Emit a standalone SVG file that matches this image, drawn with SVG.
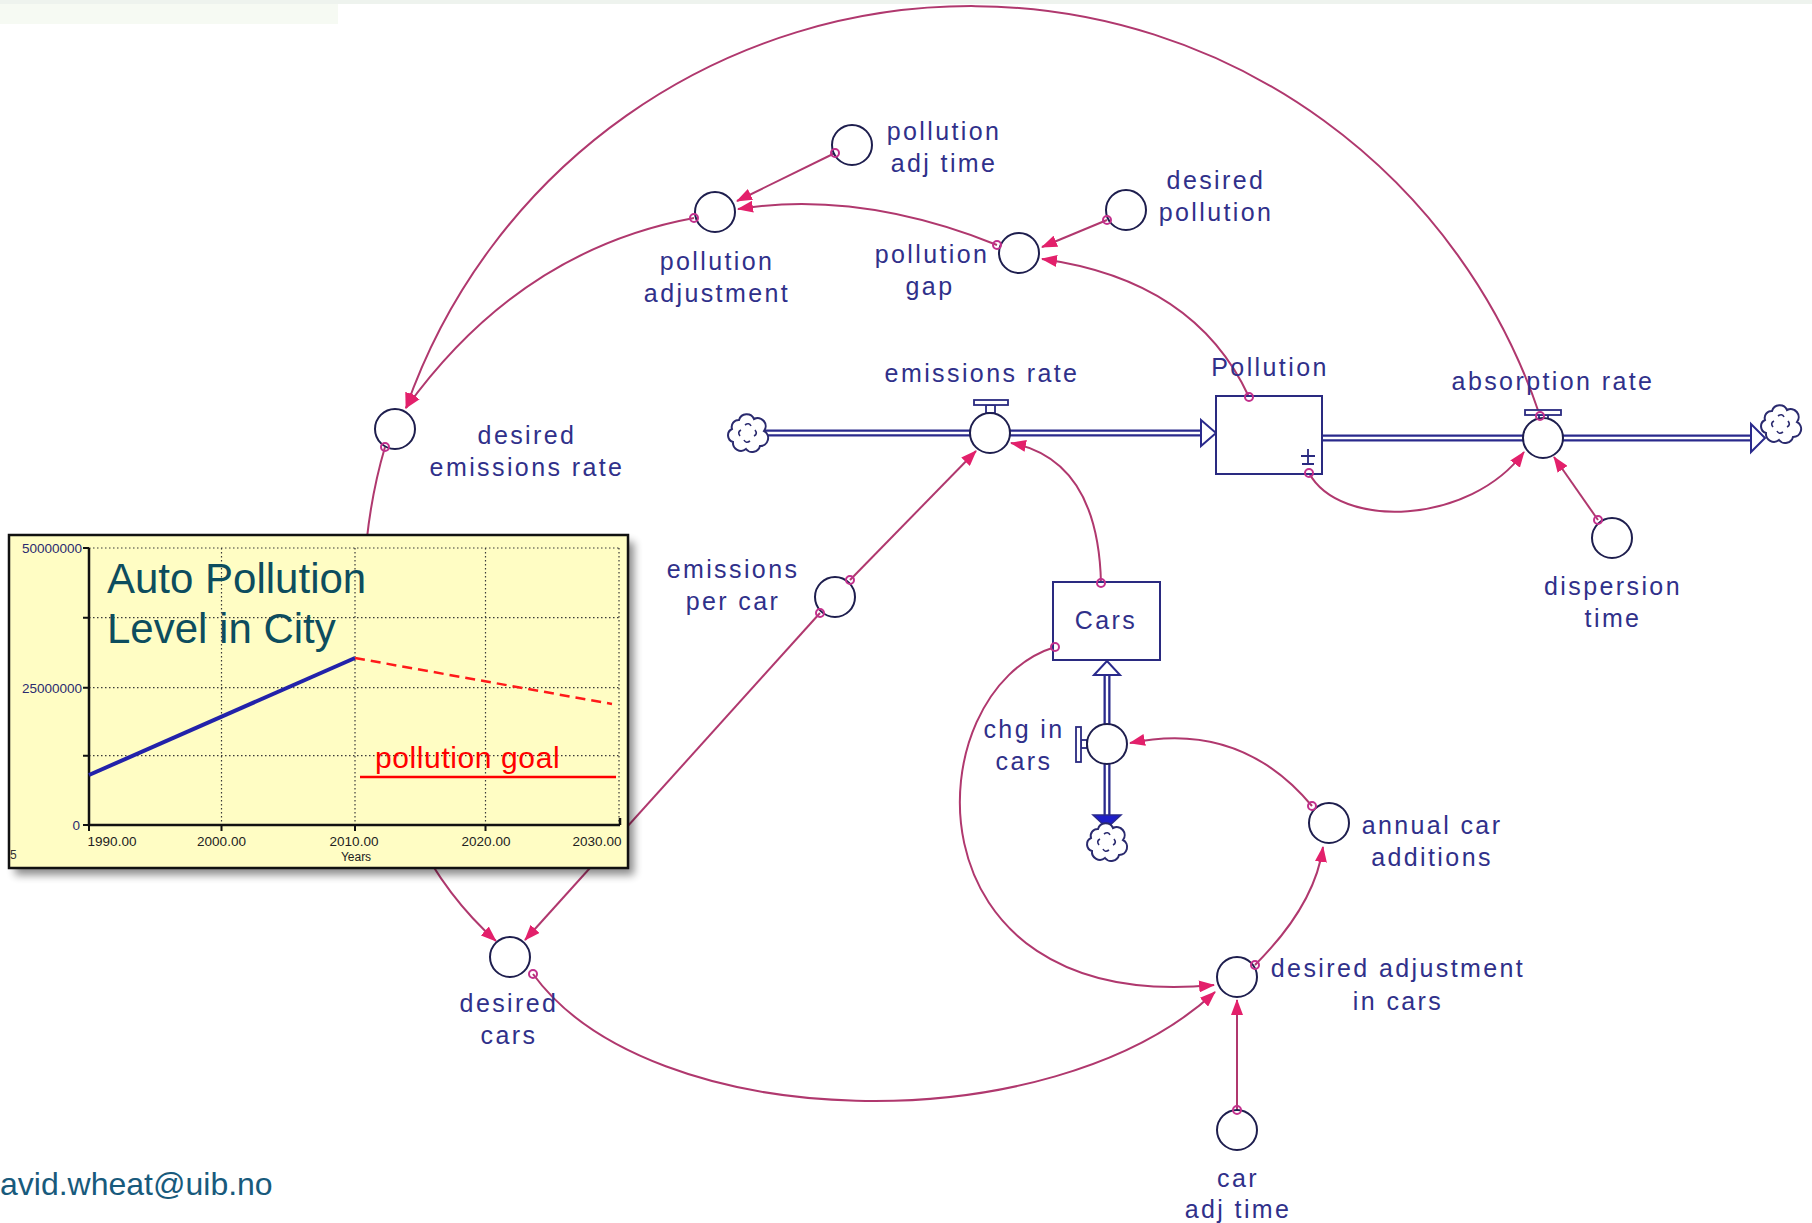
<svg xmlns="http://www.w3.org/2000/svg" xmlns:xlink="http://www.w3.org/1999/xlink" width="1812" height="1223" viewBox="0 0 1812 1223">
<style>
.lbl{font-family:"Liberation Sans",Arial,sans-serif;font-size:25px;letter-spacing:2.4px;fill:#30308A;text-anchor:middle}
.aux{fill:#fff;stroke:#1E1E4E;stroke-width:2}
.stock{fill:#fff;stroke:#2A2A80;stroke-width:2}
.link{fill:none;stroke:#B0386E;stroke-width:2}
.org{fill:none;stroke:#C2308C;stroke-width:2}
.pipeo{fill:none;stroke:#2A2A8C;stroke-width:7}
.pipei{fill:none;stroke:#fff;stroke-width:2.4}
.valve{fill:#fff;stroke:#2A2A80;stroke-width:1.8}
.cloud{fill:#fff;stroke:#2A2A6E;stroke-width:2}
.grid{stroke:#3A3A3A;stroke-width:1.2;stroke-dasharray:1.5 2.5;fill:none}
.ax{stroke:#111;stroke-width:2.5;fill:none}
.yl{font-family:"Liberation Sans",Arial,sans-serif;font-size:13.5px;fill:#2B2B70;text-anchor:end}
.xl{font-family:"Liberation Sans",Arial,sans-serif;font-size:13.5px;fill:#222;text-anchor:middle}
</style>
<defs>
<marker id="ah" markerWidth="16" markerHeight="12" refX="15" refY="6" orient="auto" markerUnits="userSpaceOnUse">
<path d="M0,0 L16,6 L0,12 z" fill="#E3206B"/>
</marker>
<g id="cloudsym">
<path class="cloud" d="M-9,-14 A8,8 0 0 1 6,-15 A8,8 0 0 1 16,-3 A8,8 0 0 1 12,12 A8,8 0 0 1 -2,15 A8,8 0 0 1 -15,8 A7,7 0 0 1 -16,-5 A7,7 0 0 1 -9,-14 Z"/>
<path fill="none" stroke="#2A2A6E" stroke-width="1.6" d="M-3,-9 q4,-3 6,1 M7,-4 q3,4 -1,6 M2,7 q-4,3 -6,-1 M-8,2 q-3,-4 1,-6"/>
</g>
<filter id="shadow" x="-10%" y="-10%" width="125%" height="130%">
<feGaussianBlur stdDeviation="4"/>
</filter>
</defs>
<rect width="1812" height="1223" fill="#fff"/>
<rect x="0" y="0" width="1812" height="4" fill="#EEF3EE"/>
<rect x="0" y="4" width="338" height="20" fill="#F6FAF3"/>

<g id="connectors">
<path class="link" d="M1540,416 A599,599 0 0 0 406,408" marker-end="url(#ah)"/>
<path class="link" d="M835,153 L737,201" marker-end="url(#ah)"/>
<path class="link" d="M997,245 Q860,190 738,209" marker-end="url(#ah)"/>
<path class="link" d="M1107,220 L1042,247" marker-end="url(#ah)"/>
<path class="link" d="M1249,397 Q1195,280 1042,259" marker-end="url(#ah)"/>
<path class="link" d="M694,218 Q520,250 406,408" marker-end="url(#ah)"/>
<path class="link" d="M385,447 C340,600 360,820 496,941" marker-end="url(#ah)"/>
<path class="link" d="M820,613 L525,940" marker-end="url(#ah)"/>
<path class="link" d="M850,580 L976,451" marker-end="url(#ah)"/>
<path class="link" d="M1101,583 Q1098,460 1011,443" marker-end="url(#ah)"/>
<path class="link" d="M1055,647 C915,690 900,1015 1214,985" marker-end="url(#ah)"/>
<path class="link" d="M533,974 C650,1135 1050,1145 1215,992" marker-end="url(#ah)"/>
<path class="link" d="M1237,1110 L1237,1000" marker-end="url(#ah)"/>
<path class="link" d="M1255,965 Q1315,905 1323,847" marker-end="url(#ah)"/>
<path class="link" d="M1312,806 Q1240,720 1130,743" marker-end="url(#ah)"/>
<path class="link" d="M1309,473 C1340,530 1470,525 1524,452" marker-end="url(#ah)"/>
<path class="link" d="M1598,520 L1554,457" marker-end="url(#ah)"/>
<!-- flow pipes -->
<path class="pipeo" d="M765,433 L970,433 M1010,433 L1201,433"/>
<path class="pipei" d="M765,433 L970,433 M1010,433 L1201,433"/>
<path class="pipeo" d="M1322,438 L1523,438 M1563,438 L1751,438"/>
<path class="pipei" d="M1322,438 L1523,438 M1563,438 L1751,438"/>
<path class="pipeo" d="M1107,675 L1107,724 M1107,764 L1107,815"/>
<path class="pipei" d="M1107,675 L1107,724 M1107,764 L1107,815"/>
<path d="M1201,420 L1216,433 L1201,446 Z" fill="#fff" stroke="#2A2A8C" stroke-width="2"/>
<path d="M1751,424 L1765,438 L1751,452 Z" fill="#fff" stroke="#2A2A8C" stroke-width="2"/>
<path d="M1094,675 L1107,661 L1120,675 Z" fill="#fff" stroke="#2A2A8C" stroke-width="2"/>
<path d="M1093,815 L1121,815 L1107,828 Z" fill="#1E1EC8" stroke="#2A2A8C" stroke-width="1.5"/>
</g>

<g id="cloud-emissions-source"><use xlink:href="#cloudsym" href="#cloudsym" x="748" y="434"/></g>
<g id="cloud-absorption-sink"><use xlink:href="#cloudsym" href="#cloudsym" x="1781" y="425"/></g>
<g id="cloud-cars-sink"><use xlink:href="#cloudsym" href="#cloudsym" x="1107" y="843"/></g>

<g id="pollution-adj-time">
<circle class="aux" cx="852" cy="145" r="20"/>
<circle class="org" cx="835" cy="153" r="4"/>
<text class="lbl" x="944" y="140">pollution</text>
<text class="lbl" x="944" y="172">adj time</text>
</g>
<g id="pollution-adjustment">
<circle class="aux" cx="715" cy="212" r="20"/>
<circle class="org" cx="694" cy="218" r="4"/>
<text class="lbl" x="717" y="270">pollution</text>
<text class="lbl" x="717" y="302">adjustment</text>
</g>
<g id="desired-pollution">
<circle class="aux" cx="1126" cy="210" r="20"/>
<circle class="org" cx="1107" cy="220" r="4"/>
<text class="lbl" x="1216" y="189">desired</text>
<text class="lbl" x="1216" y="221">pollution</text>
</g>
<g id="pollution-gap">
<circle class="aux" cx="1019" cy="253" r="20"/>
<circle class="org" cx="997" cy="245" r="4"/>
<text class="lbl" x="932" y="263">pollution</text>
<text class="lbl" x="930" y="295">gap</text>
</g>
<g id="desired-emissions-rate">
<circle class="aux" cx="395" cy="429" r="20"/>
<circle class="org" cx="385" cy="447" r="4"/>
<text class="lbl" x="527" y="444">desired</text>
<text class="lbl" x="527" y="476">emissions rate</text>
</g>
<g id="emissions-rate">
<rect class="valve" x="986" y="405" width="9" height="8"/>
<rect x="974" y="400" width="34" height="5" fill="#fff" stroke="#2A2A80" stroke-width="1.8"/>
<circle class="aux" cx="990" cy="433" r="20"/>
<text class="lbl" x="982" y="382">emissions rate</text>
</g>
<g id="pollution-stock">
<rect class="stock" x="1216" y="396" width="106" height="78"/>
<circle class="org" cx="1249" cy="397" r="4"/>
<path d="M1308,449 L1308,464 M1301,456 L1315,456 M1302,464 L1314,464" stroke="#2A2A80" stroke-width="1.8" fill="none"/>
<circle class="org" cx="1309" cy="473" r="4"/>
<text class="lbl" x="1270" y="376">Pollution</text>
</g>
<g id="absorption-rate">
<rect class="valve" x="1539" y="415" width="9" height="5"/>
<rect x="1525" y="410" width="36" height="5" fill="#fff" stroke="#2A2A80" stroke-width="1.8"/>
<circle class="aux" cx="1543" cy="438" r="20"/>
<circle class="org" cx="1540" cy="416" r="4"/>
<text class="lbl" x="1553" y="390">absorption rate</text>
</g>
<g id="dispersion-time">
<circle class="aux" cx="1612" cy="538" r="20"/>
<circle class="org" cx="1598" cy="520" r="4"/>
<text class="lbl" x="1613" y="595">dispersion</text>
<text class="lbl" x="1613" y="627">time</text>
</g>
<g id="emissions-per-car">
<circle class="aux" cx="835" cy="597" r="20"/>
<circle class="org" cx="850" cy="580" r="4"/>
<circle class="org" cx="820" cy="613" r="4"/>
<text class="lbl" x="733" y="578">emissions</text>
<text class="lbl" x="733" y="610">per car</text>
</g>
<g id="cars-stock">
<rect class="stock" x="1053" y="582" width="107" height="78"/>
<circle class="org" cx="1101" cy="583" r="4"/>
<circle class="org" cx="1055" cy="647" r="4"/>
<text class="lbl" x="1106" y="629">Cars</text>
</g>
<g id="chg-in-cars">
<rect class="valve" x="1081" y="740" width="6" height="8"/>
<rect x="1076" y="727" width="5" height="35" fill="#fff" stroke="#2A2A80" stroke-width="1.8"/>
<circle class="aux" cx="1107" cy="744" r="20"/>
<text class="lbl" x="1024" y="738">chg in</text>
<text class="lbl" x="1024" y="770">cars</text>
</g>
<g id="annual-car-additions">
<circle class="aux" cx="1329" cy="823" r="20"/>
<circle class="org" cx="1312" cy="806" r="4"/>
<text class="lbl" x="1432" y="834">annual car</text>
<text class="lbl" x="1432" y="866">additions</text>
</g>
<g id="desired-adjustment-in-cars">
<circle class="aux" cx="1237" cy="977" r="20"/>
<circle class="org" cx="1255" cy="965" r="4"/>
<text class="lbl" x="1398" y="977">desired adjustment</text>
<text class="lbl" x="1398" y="1010">in cars</text>
</g>
<g id="car-adj-time">
<circle class="aux" cx="1237" cy="1130" r="20"/>
<circle class="org" cx="1237" cy="1110" r="4"/>
<text class="lbl" x="1238" y="1187">car</text>
<text class="lbl" x="1238" y="1218">adj time</text>
</g>
<g id="desired-cars">
<circle class="aux" cx="510" cy="957" r="20"/>
<circle class="org" cx="533" cy="974" r="4"/>
<text class="lbl" x="509" y="1012">desired</text>
<text class="lbl" x="509" y="1044">cars</text>
</g>

<g id="chart">
<rect x="15" y="542" width="619" height="333" fill="#000" opacity="0.45" filter="url(#shadow)"/>
<rect x="9" y="535" width="619" height="333" fill="#FFFDC4" stroke="#111" stroke-width="2.5"/>
<path class="grid" d="M221.5,548 V825 M355,548 V825 M485.5,548 V825 M619,548 V825 M89,548 H619 M89,617.7 H619 M89,687.7 H619 M89,755.7 H619"/>
<path class="ax" d="M89,548 V825 H620 M620,818 V825"/>
<path stroke="#111" stroke-width="2" d="M83,548 H89 M83,617.7 H89 M83,687.7 H89 M83,755.7 H89 M83,825 H89 M221.5,825 V831 M355,825 V831 M485.5,825 V831 M89,825 V831"/>
<text class="yl" x="82" y="553">50000000</text>
<text class="yl" x="82" y="692.5">25000000</text>
<text class="yl" x="80" y="830">0</text>
<text class="xl" x="112" y="846">1990.00</text>
<text class="xl" x="221.5" y="846">2000.00</text>
<text class="xl" x="354" y="846">2010.00</text>
<text class="xl" x="486" y="846">2020.00</text>
<text class="xl" x="597" y="846">2030.00</text>
<text class="xl" x="356" y="861" style="font-size:12px">Years</text>
<text x="10" y="859" style="font-family:'Liberation Sans',Arial,sans-serif;font-size:12px;fill:#333">5</text>
<line x1="89" y1="775" x2="355" y2="658" stroke="#2222AA" stroke-width="4"/>
<line x1="355" y1="658" x2="612" y2="704" stroke="#FF1A1A" stroke-width="2.5" stroke-dasharray="10 6"/>
<text x="375" y="768" style="font-family:'Liberation Sans',Arial,sans-serif;font-size:30px;letter-spacing:0.6px;fill:#FF0000">pollution goal</text>
<line x1="360" y1="777" x2="616" y2="777" stroke="#FF0000" stroke-width="2.5"/>
<text x="107" y="593" style="font-family:'Liberation Sans',Arial,sans-serif;font-size:42px;fill:#0D4D5E">Auto Pollution</text>
<text x="107" y="643" style="font-family:'Liberation Sans',Arial,sans-serif;font-size:42px;fill:#0D4D5E">Level in City</text>
</g>

<text x="0" y="1195" style="font-family:'Liberation Sans',Arial,sans-serif;font-size:32px;fill:#185A7C">avid.wheat@uib.no</text>
</svg>
